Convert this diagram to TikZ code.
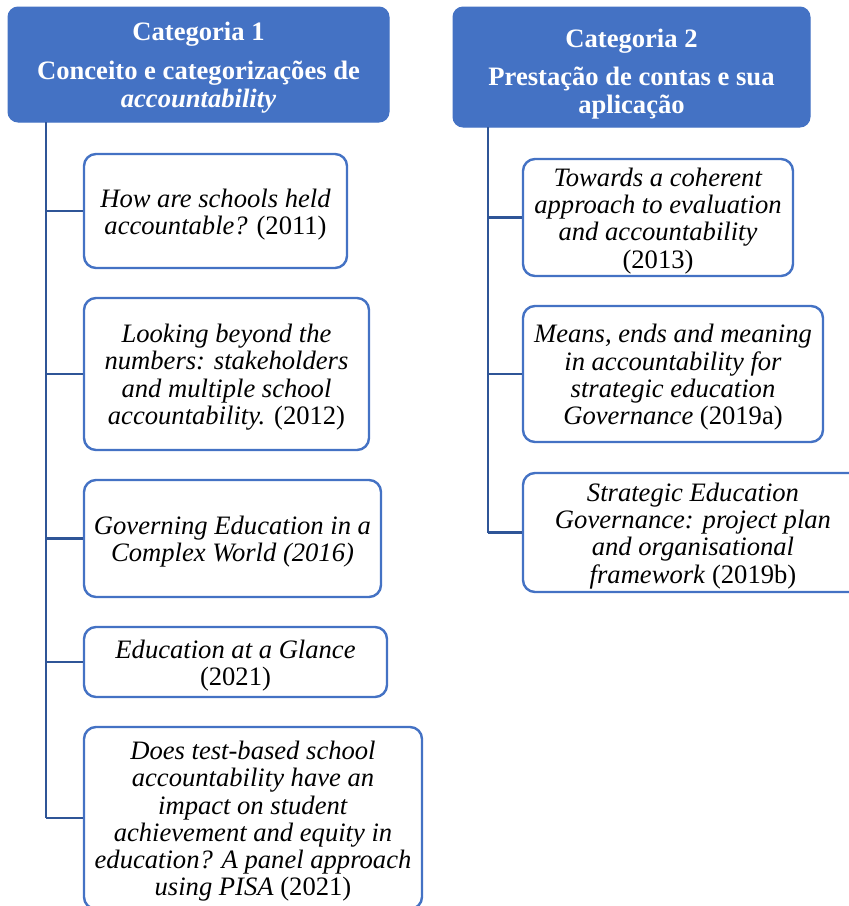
\documentclass[tikz,border=0pt]{standalone}
\usepackage{fontspec}
\setmainfont{Liberation Serif}
\definecolor{hdr}{HTML}{4472C4}
\definecolor{conn}{HTML}{2F5597}
\newcommand{\tp}{\rule{0pt}{25pt}}
\begin{document}
\begin{tikzpicture}[x=1pt,y=-1pt,
  header/.style={draw=hdr, fill=hdr, line width=1pt, rounded corners=10pt, text=white,
    font=\fontsize{26.6}{28}\selectfont\bfseries, align=center, inner sep=0pt},
  box/.style={draw=hdr, fill=white, line width=2.4pt, rounded corners=12pt,
    font=\fontsize{26.6}{27.3}\selectfont, align=center, inner sep=0pt},
  connline/.style={draw=conn, line width=2.8pt}]
\useasboundingbox (0,0) rectangle (849,906);
% headers
\node[header, minimum width=381, minimum height=115] (h1) at (198.5,64.5)
  {\rule{0pt}{24pt}Categoria 1\\[11pt] Conceito e categorizações de\\ \textit{accountability}};
\node[header, minimum width=357, minimum height=120] (h2) at (631.5,67)
  {\rule{0pt}{33pt}Categoria 2\\[10pt] Prestação de contas e sua\\ aplicação};
% left boxes
\node[box, minimum width=263, minimum height=114] (b1) at (215.5,211)
  {\tp\textit{How are schools held}\\ \textit{accountable?} (2011)};
\node[box, minimum width=285, minimum height=152] (b2) at (226.5,374)
  {\tp\textit{Looking beyond the}\\ \textit{numbers: stakeholders}\\ \textit{and multiple school}\\ \textit{accountability.} (2012)};
\node[box, minimum width=297, minimum height=117] (b3) at (232.5,538.5)
  {\tp\textit{Governing Education in a}\\ \textit{Complex World (2016)}};
\node[box, minimum width=303, minimum height=70] (b4) at (235.5,662)
  {\tp\textit{Education at a Glance}\\ (2021)};
\node[box, minimum width=338, minimum height=182] (b5) at (253,818)
  {\tp\textit{Does test-based school}\\ \textit{accountability have an}\\ \textit{impact on student}\\ \textit{achievement and equity in}\\ \textit{education? A panel approach}\\ \textit{using PISA} (2021)};
% right boxes
\node[box, minimum width=270, minimum height=117] (r1) at (658,217.5)
  {\tp\textit{Towards a coherent}\\ \textit{approach to evaluation}\\ \textit{and accountability}\\ (2013)};
\node[box, minimum width=300, minimum height=136] (r2) at (673,374)
  {\tp\textit{Means, ends and meaning}\\ \textit{in accountability for}\\ \textit{strategic education}\\ \textit{Governance} (2019a)};
\node[box, minimum width=340, minimum height=119] (r3) at (693,532.5)
  {\tp\textit{Strategic Education}\\ \textit{Governance: project plan}\\ \textit{and organisational}\\ \textit{framework} (2019b)};
% connectors
\coordinate (t1) at (46,122);
\coordinate (t2) at (488,127);
\draw[connline] (t1) -- (t1 |- b5.west);
\foreach \b in {b1,b2,b3,b4,b5} \draw[connline] (t1 |- \b.west) -- (\b.west);
\draw[connline] (t2) -- (t2 |- r3.west);
\foreach \b in {r1,r2,r3} \draw[connline] (t2 |- \b.west) -- (\b.west);
\end{tikzpicture}
\end{document}
